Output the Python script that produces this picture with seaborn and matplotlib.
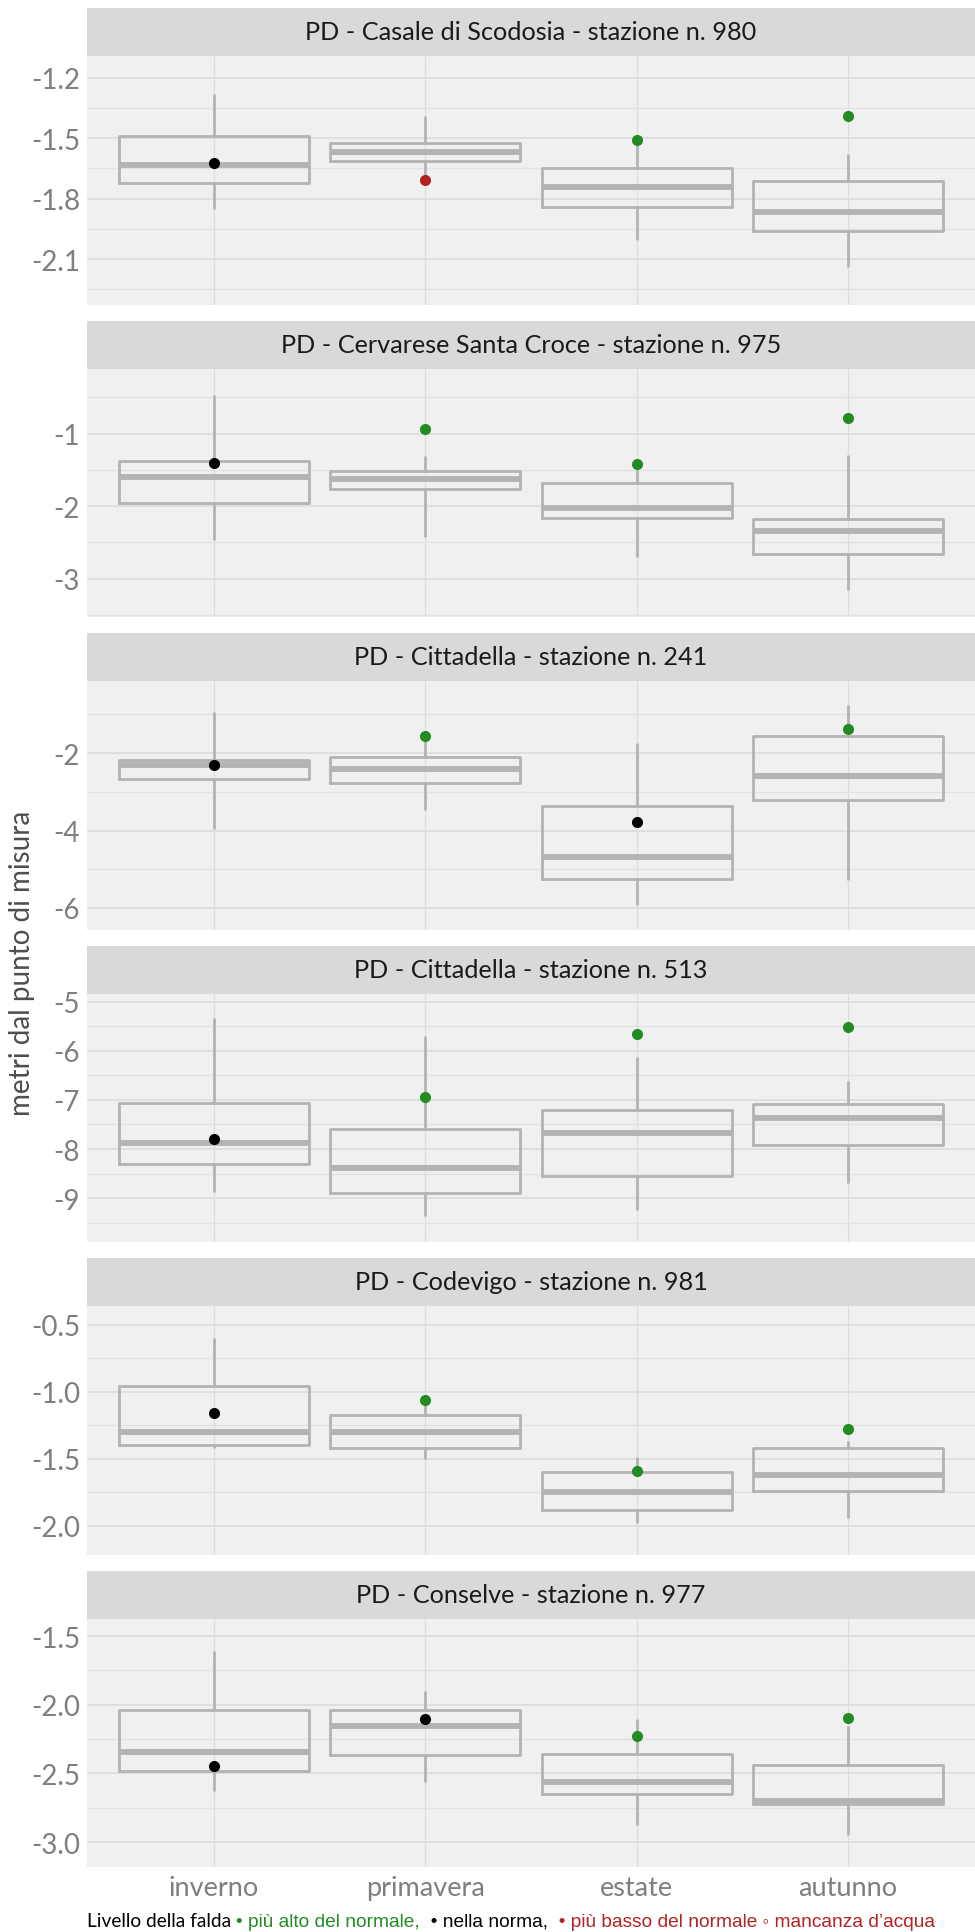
import numpy as np
import pandas as pd
import matplotlib
matplotlib.use("Agg")
import matplotlib.pyplot as plt
import seaborn as sns
from matplotlib.patches import Rectangle
from matplotlib.ticker import MultipleLocator, FormatStrFormatter
from matplotlib.offsetbox import TextArea, HPacker, AnchoredOffsetbox


stagioni = ["inverno", "primavera", "estate", "autunno"]

stazioni = [
    "PD - Casale di Scodosia - stazione n. 980",
    "PD - Cervarese Santa Croce - stazione n. 975",
    "PD - Cittadella - stazione n. 241",
    "PD - Cittadella - stazione n. 513",
    "PD - Codevigo - stazione n. 981",
    "PD - Conselve - stazione n. 977",
]

# per stagione: minimo, 1° quartile, mediana, 3° quartile, massimo (metri)
casale_980 = [[-1.850, -1.723, -1.631, -1.487, -1.281],
              [-1.690, -1.614, -1.570, -1.525, -1.388],
              [-2.007, -1.842, -1.740, -1.647, -1.535],
              [-2.139, -1.961, -1.864, -1.710, -1.580]]
cervarese_975 = [[-2.471, -1.956, -1.598, -1.372, -0.462],
                 [-2.421, -1.759, -1.621, -1.515, -1.308],
                 [-2.701, -2.159, -2.030, -1.680, -1.500],
                 [-3.161, -2.664, -2.347, -2.172, -1.299]]
cittadella_241 = [[-3.957, -2.678, -2.318, -2.180, -0.927],
                  [-3.459, -2.781, -2.403, -2.112, -1.700],
                  [-5.932, -5.245, -4.687, -3.356, -1.742],
                  [-5.271, -3.210, -2.584, -1.571, -0.764]]
cittadella_513 = [[-8.878, -8.295, -7.868, -7.068, -5.325],
                  [-9.373, -8.892, -8.390, -7.597, -5.698],
                  [-9.237, -8.546, -7.678, -7.210, -6.132],
                  [-8.695, -7.915, -7.373, -7.088, -6.614]]
codevigo_981 = [[-1.421, -1.396, -1.297, -0.958, -0.601],
                [-1.500, -1.418, -1.302, -1.171, -1.090],
                [-1.975, -1.881, -1.747, -1.599, -1.483],
                [-1.940, -1.740, -1.621, -1.418, -1.364]]
conselve_977 = [[-2.625, -2.480, -2.342, -2.035, -1.609],
                [-2.564, -2.368, -2.156, -2.035, -1.899],
                [-2.874, -2.649, -2.564, -2.361, -2.100],
                [-2.947, -2.726, -2.697, -2.441, -2.158]]

# livello attuale per stagione
attuale_980 = [-1.621, -1.709, -1.509, -1.388]
attuale_975 = [-1.400, -0.940, -1.418, -0.779]
attuale_241 = [-2.300, -1.562, -3.768, -1.382]
attuale_513 = [-7.786, -6.946, -5.658, -5.515]
attuale_981 = [-1.161, -1.062, -1.591, -1.280]
attuale_977 = [-2.446, -2.107, -2.226, -2.098]

stato_980 = ["norma", "basso", "alto", "alto"]
stato_975 = ["norma", "alto", "alto", "alto"]
stato_241 = ["norma", "alto", "norma", "alto"]
stato_513 = ["norma", "alto", "alto", "alto"]
stato_981 = ["norma", "alto", "alto", "alto"]
stato_977 = ["norma", "norma", "alto", "alto"]

storico = [casale_980, cervarese_975, cittadella_241, cittadella_513, codevigo_981, conselve_977]
attuale = [attuale_980, attuale_975, attuale_241, attuale_513, attuale_981, attuale_977]
stato = [stato_980, stato_975, stato_241, stato_513, stato_981, stato_977]

# limiti asse y e passo dei tick per pannello
limiti = [(-2.326, -1.091), (-3.529, -0.103), (-6.558, -0.137),
          (-9.895, -4.830), (-2.213, -0.361), (-3.181, -1.372)]
passo = [0.3, 1, 2, 1, 0.5, 0.5]
formato = ["%.1f", "%d", "%d", "%d", "%.1f", "%.1f"]

colori = {"alto": "#228B22", "norma": "#000000", "basso": "#B22222"}

sns.set_theme(style="white")
plt.rcParams["font.family"] = ["Lato", "DejaVu Sans"]
plt.rcParams["axes.unicode_minus"] = False

fig, axes = plt.subplots(6, 1, figsize=(9.75, 19.33), dpi=100)
plt.subplots_adjust(left=87 / 975, right=1.0, top=1 - 57 / 1933,
                    bottom=1 - 1868 / 1933, hspace=64 / 248.5)

for i, ax in enumerate(axes):
    righe = []
    for s, valori in zip(stagioni, storico[i]):
        for v in valori:
            righe.append({"stagione": s, "livello": v})
    df = pd.DataFrame(righe)
    cur = pd.DataFrame({"stagione": stagioni, "livello": attuale[i], "stato": stato[i]})

    ax.set_facecolor("#F0F0F0")
    sns.boxplot(data=df, x="stagione", y="livello", order=stagioni, whis=(0, 100),
                fill=False, color="#B3B3B3", linecolor="#B3B3B3", linewidth=2.0,
                width=0.9, showcaps=False, showfliers=False,
                medianprops=dict(linewidth=4.2, color="#B3B3B3"), ax=ax)
    sns.stripplot(data=cur, x="stagione", y="livello", hue="stato", order=stagioni,
                  palette=colori, jitter=False, size=8, linewidth=0,
                  legend=False, zorder=5, ax=ax)

    ax.set_xlim(-0.6, 3.6)
    ax.set_ylim(*limiti[i])
    ax.yaxis.set_major_locator(MultipleLocator(passo[i]))
    ax.yaxis.set_minor_locator(MultipleLocator(passo[i] / 2))
    ax.yaxis.set_major_formatter(FormatStrFormatter(formato[i]))
    ax.set_axisbelow(True)
    ax.grid(axis="y", which="major", color="#DCDCDC", linewidth=1.2)
    ax.grid(axis="y", which="minor", color="#E2E2E2", linewidth=1.0)
    ax.grid(axis="x", which="major", color="#DCDCDC", linewidth=0.8)
    ax.tick_params(axis="both", which="both", length=0, labelsize=20,
                   labelcolor="#7F7F7F", pad=5)
    for sp in ax.spines.values():
        sp.set_visible(False)
    ax.set_xlabel("")
    ax.set_ylabel("")
    if i < 5:
        ax.tick_params(axis="x", labelbottom=False)
    else:
        ax.tick_params(axis="x", labelsize=19.5, pad=6)

    # striscia con il nome della stazione
    h = 48 / 248.5
    ax.add_patch(Rectangle((0, 1), 1, h, transform=ax.transAxes, facecolor="#D9D9D9",
                           edgecolor="none", clip_on=False))
    ax.text(0.5, 1 + h / 2, stazioni[i], transform=ax.transAxes, ha="center",
            va="center", fontsize=18.2, color="#1A1A1A")

fig.text(22 / 975, 1 - 963 / 1933, "metri dal punto di misura", rotation=90,
         ha="center", va="center", fontsize=20, color="#4D4D4D")

pezzi = [
    ("Livello della falda ", "#000000", ["Lato", "DejaVu Sans"]),
    ("\u2022 più alto del normale,", "#228B22", ["Liberation Sans", "DejaVu Sans"]),
    ("  \u2022 nella norma,", "#000000", ["Liberation Sans", "DejaVu Sans"]),
    ("  \u2022 più basso del normale", "#B22222", ["Liberation Sans", "DejaVu Sans"]),
    (" \u25e6 mancanza d\u2019acqua", "#B22222", ["Liberation Sans", "DejaVu Sans"]),
]
box = HPacker(children=[TextArea(t, textprops=dict(color=c, family=f, fontsize=13.8))
                        for t, c, f in pezzi], sep=0, align="baseline")
ab = AnchoredOffsetbox(loc="center left", child=box, pad=0, borderpad=0, frameon=False,
                       bbox_to_anchor=(87 / 975, 1 - 1922 / 1933),
                       bbox_transform=fig.transFigure)
fig.add_artist(ab)

plt.savefig("out.png", dpi=100)
